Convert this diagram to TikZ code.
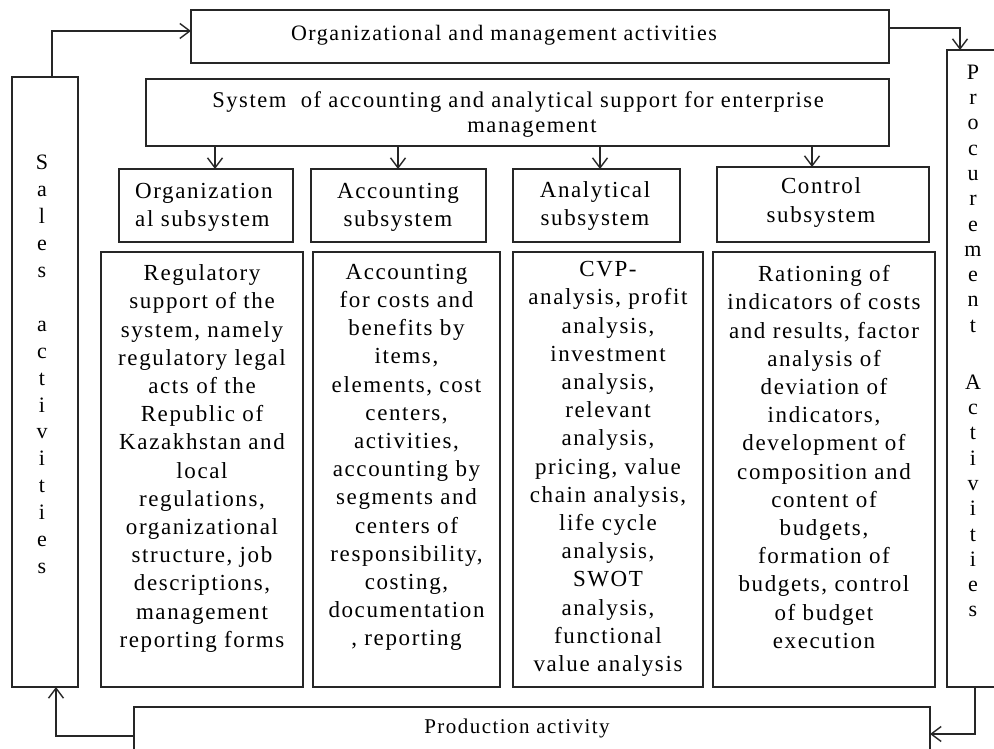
\documentclass[tikz,border=0pt]{standalone}
\usepackage{fontspec}
\setmainfont{Liberation Serif}[LetterSpace=7]
\usetikzlibrary{arrows.meta,calc}

\tikzset{
  frame/.style={draw=black!85, line width=1.4pt, inner sep=0pt, outer sep=0pt},
  conn/.style={draw=black!85, line width=1.4pt,
    -{Straight Barb[length=10pt,width=15pt,line width=1.4pt]}},
  lbl/.style={inner sep=0pt, align=center, text=black,
    font=\fontsize{23}{28.2}\selectfont},
  headlbl/.style={lbl, font=\fontsize{22}{25}\selectfont},
  vlbl/.style={lbl, font=\fontsize{22}{26.9}\selectfont},
}

% box given by name and corners (x1,y1) (x2,y2)
\newcommand\mkbox[5]{%
  \node[frame, minimum width={#4pt-#2pt}, minimum height={#5pt-#3pt}]
    (#1) at ({(#2+#4)/2},{(#3+#5)/2}) {};}

\begin{document}
\begin{tikzpicture}[x=1pt,y=-1pt]
\useasboundingbox (0,0) rectangle (994,749);
\fill[white] (0,0) rectangle (994,749);
\clip (0,0) rectangle (994,749);

% outer ring of activities
\mkbox{orgact}{191}{10}{889}{63}
\mkbox{sales}{12}{77}{78}{687}
\mkbox{proc}{947}{50}{1000}{687}
\mkbox{prod}{134}{707}{930}{762}

% central system
\mkbox{sys}{146}{79}{889}{146}

% subsystems
\mkbox{orgsub}{119}{169}{293}{242}
\mkbox{accsub}{311}{169}{486}{242}
\mkbox{anasub}{513}{169}{680}{242}
\mkbox{ctlsub}{717}{167}{929}{242}

% subsystem contents
\mkbox{orgdet}{101}{252}{303}{687}
\mkbox{accdet}{313}{252}{500}{687}
\mkbox{anadet}{513}{252}{703}{687}
\mkbox{ctldet}{713}{252}{935}{687}

% texts
\node[headlbl] (torgact) at (504,35) {Organizational and management activities};
\node[headlbl, font=\fontsize{22.5}{25}\selectfont] (tsys) at (518,115)
  {System\ \ of accounting and analytical support for enterprise\\\hspace*{28pt}management};
\node[headlbl, font=\fontsize{21}{25}\selectfont] (tprod) at (517,728) {Production activity};

\node[lbl, align=left, anchor=west] (torgsub) at (135,207.5) {Organization\\al subsystem};
\node[lbl] (taccsub) at (398,207) {Accounting\\subsystem};
\node[lbl] (tanasub) at (595,206) {Analytical\\subsystem};
\node[lbl] (tctlsub) at (821,202.5) {Control\\subsystem};

\node[lbl] (torgdet) at (202,458.5) {Regulatory\\support of the\\system, namely\\regulatory legal\\acts of the\\Republic of\\Kazakhstan and\\local\\regulations,\\organizational\\structure, job\\descriptions,\\management\\reporting forms};
\node[lbl] (taccdet) at (406.5,457.5) {Accounting\\for costs and\\benefits by\\items,\\elements, cost\\centers,\\activities,\\accounting by\\segments and\\centers of\\responsibility,\\costing,\\documentation\\, reporting};
\node[lbl] (tanadet) at (608,469) {CVP-\\analysis, profit\\analysis,\\investment\\analysis,\\relevant\\analysis,\\pricing, value\\chain analysis,\\life cycle\\analysis,\\SWOT\\analysis,\\functional\\value analysis};
\node[lbl] (tctldet) at (824,457) {Rationing of\\indicators of costs\\and results, factor\\analysis of\\deviation of\\indicators,\\development of\\composition and\\content of\\budgets,\\formation of\\budgets, control\\of budget\\execution};

\node[vlbl] (tsales) at (42,364.5) {S\\a\\l\\e\\s\\[26.9pt]a\\c\\t\\i\\v\\i\\t\\i\\e\\s};
\node[vlbl, font=\fontsize{22}{25.3}\selectfont] (tproc) at (973,341)
  {P\\r\\o\\c\\u\\r\\e\\m\\e\\n\\t\\[31.7pt]A\\c\\t\\i\\v\\i\\t\\i\\e\\s};

% connectors around the ring
\draw[conn] ([xshift=7pt]sales.north) |- ([yshift=5.5pt]orgact.west);
\draw[conn] ([yshift=8.5pt]orgact.east) -| ([xshift=-13.5pt]proc.north);
\draw[conn] ([xshift=1.5pt]proc.south) |- ([yshift=0.5pt]prod.east);
\draw[conn] ([yshift=-1.5pt]prod.west) -| ([xshift=11pt]sales.south);

% system to subsystems
\coordinate (xa) at (215,0);
\coordinate (xb) at (398,0);
\coordinate (xc) at (600,0);
\coordinate (xd) at (812,0);
\draw[conn] (sys.south -| xa) -- (orgsub.north -| xa);
\draw[conn] (sys.south -| xb) -- (accsub.north -| xb);
\draw[conn] (sys.south -| xc) -- (anasub.north -| xc);
\draw[conn] (sys.south -| xd) -- (ctlsub.north -| xd);
\end{tikzpicture}
\end{document}
